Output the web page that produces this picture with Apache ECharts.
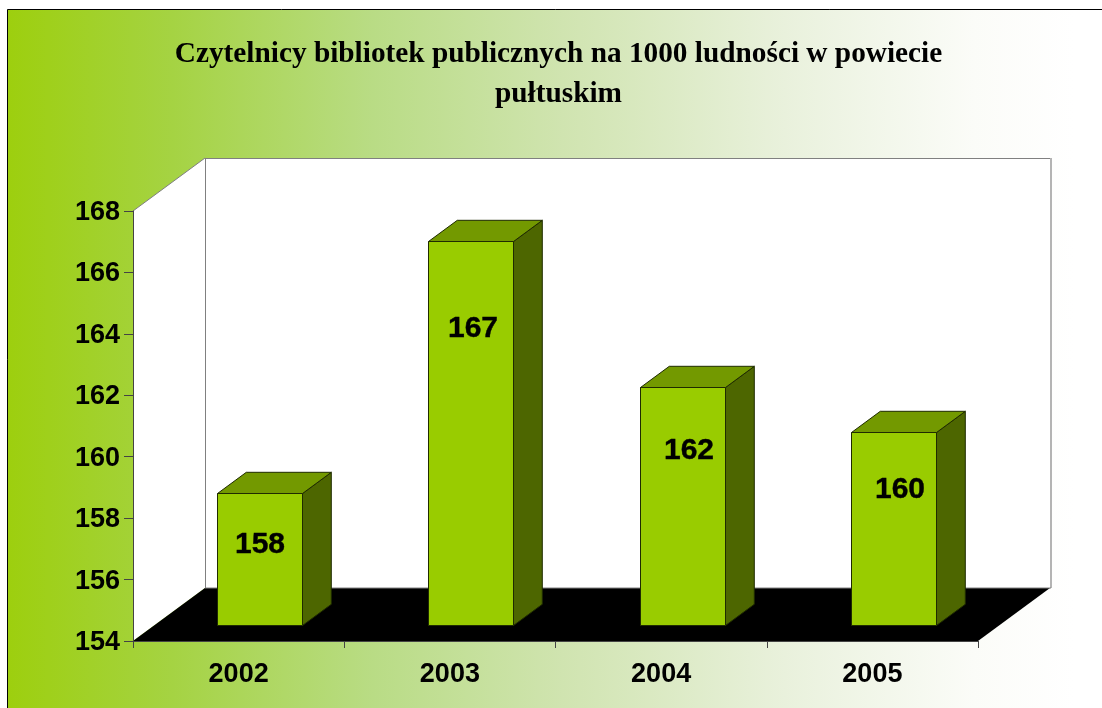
<!DOCTYPE html>
<html>
<head>
<meta charset="utf-8">
<style>html,body{margin:0;padding:0;background:#fff}#c{width:1102px;height:708px}</style>
<script src="https://cdn.jsdelivr.net/npm/echarts@6/dist/echarts.min.js"></script>
</head>
<body>
<div id="c"></div>
<script>
const titleLines = ['Czytelnicy bibliotek publicznych na 1000 ludności w powiecie', 'pułtuskim'];
const categories = ['2002', '2003', '2004', '2005'];
const barHeights = [158.3, 166.5, 161.75, 160.3];
const barLabels = ['158', '167', '162', '160'];
const axisMin = 154, axisMax = 168, axisStep = 2;

// Layout of the pseudo-3D box
const DEPTH = [72, -53];
const BAR_FRONT = 0.3, BAR_SIDE = 0.4;
const BAR_W = 85;
const LABEL_SHIFT = [[0, 50], [2, 86], [6, 62], [6, 56]];

const chart = echarts.init(document.getElementById('c'), null, {renderer: 'canvas'});
const poly = (points, fill, stroke, lw) => ({
  type: 'polygon', shape: {points},
  style: {fill, stroke: stroke || null, lineWidth: lw || 1}
});
const line = (a, b, stroke, lw) => ({
  type: 'line', shape: {x1: a[0], y1: a[1], x2: b[0], y2: b[1]},
  style: {stroke, lineWidth: lw || 1}
});

function renderBox(params) {
  const c = params.coordSys;
  const L = c.x, R = c.x + c.width, T = c.y, B = c.y + c.height;
  const [dx, dy] = DEPTH;
  return {type: 'group', children: [
    poly([[L, T], [L + dx, T + dy], [L + dx, B + dy], [L, B]], '#fff'),
    poly([[L + dx, T + dy], [R + dx, T + dy], [R + dx, B + dy], [L + dx, B + dy]], '#fff'),
    poly([[L, B], [R, B], [R + dx, B + dy], [L + dx, B + dy]], '#000'),
    line([L, T], [L + dx, T + dy], '#808080'),
    line([L + dx, T + dy + 0.5], [R + dx + 1, T + dy + 0.5], '#808080'),
    line([L + dx + 0.5, T + dy], [L + dx + 0.5, B + dy], '#808080'),
    line([R + dx + 1, T + dy], [R + dx + 1, B + dy], '#b4b4b4', 2),
    line([L + dx, B + dy], [R + dx + 1, B + dy], '#808080')
  ]};
}

function renderBar(params, api) {
  const i = params.dataIndex;
  const top = api.coord([i, api.value(1)]);
  const base = api.coord([i, axisMin]);
  const [dx, dy] = DEPTH;
  const cx = Math.round(top[0] + dx * BAR_FRONT);
  const x0 = cx - BAR_W / 2, x1 = cx + BAR_W / 2;
  const yT = Math.round(top[1] + dy * BAR_FRONT) + 0.5;
  const yB = Math.round(base[1] + dy * BAR_FRONT) + 0.5;
  const sx = dx * BAR_SIDE, sy = dy * BAR_SIDE;
  const edge = '#1f2b00';
  const shift = LABEL_SHIFT[i];
  return {type: 'group', children: [
    poly([[x1, yT], [x1 + sx, yT + sy], [x1 + sx, yB + sy], [x1, yB]], '#4d6600', edge),
    poly([[x0, yT], [x0 + sx, yT + sy], [x1 + sx, yT + sy], [x1, yT]], '#739900', edge),
    poly([[x0, yT], [x1, yT], [x1, yB], [x0, yB]], '#99cc00', edge),
    {type: 'text', style: {
      text: barLabels[i], x: cx + shift[0], y: yT + shift[1] + 1,
      align: 'center', verticalAlign: 'middle', fill: '#000',
      stroke: '#000', lineWidth: 0.4,
      font: 'bold 30px "Liberation Sans"'
    }}
  ]};
}

chart.setOption({
  animation: false,
  backgroundColor: '#fff',
  graphic: [{
    type: 'rect', z: -10, silent: true,
    shape: {x: 7.5, y: 9.5, width: 1110, height: 710},
    style: {
      fill: new echarts.graphic.LinearGradient(0, 0, 1, 0, [
        {offset: 0, color: '#9dcf0e'},
        {offset: 0.15, color: '#a5d343'},
        {offset: 0.33, color: '#b9dc85'},
        {offset: 0.5, color: '#d0e4b0'},
        {offset: 0.7, color: '#e9f1dc'},
        {offset: 0.87, color: '#fbfcf8'},
        {offset: 0.96, color: '#ffffff'}
      ]),
      stroke: '#000', lineWidth: 1
    }
  }],
  title: {
    text: titleLines.join('\n'),
    left: 553.5, top: 29, textAlign: 'center',
    textStyle: {fontFamily: '"Liberation Serif"', fontWeight: 'bold', fontSize: 29.3, lineHeight: 40, color: '#000'}
  },
  grid: {left: 133, top: 211, width: 845, height: 430, containLabel: false},
  xAxis: {
    type: 'category', data: categories, z: 10,
    axisTick: {show: true, alignWithLabel: false, length: 7, lineStyle: {color: '#444'}},
    axisLine: {show: true, lineStyle: {color: '#444', width: 1}},
    axisLabel: {color: '#000', fontFamily: '"Liberation Sans"', fontWeight: 'bold', fontSize: 27, margin: 20},
    splitLine: {show: false}
  },
  yAxis: {
    type: 'value', min: axisMin, max: axisMax, interval: axisStep, z: 10,
    axisTick: {show: true, length: 9, lineStyle: {color: '#444'}},
    axisLine: {show: true, lineStyle: {color: '#444', width: 1}},
    axisLabel: {color: '#000', fontFamily: '"Liberation Sans"', fontWeight: 'bold', fontSize: 27, margin: 13, verticalAlign: 'top', lineHeight: 3},
    splitLine: {show: false}
  },
  series: [
    {type: 'custom', z: 1, silent: true, clip: false, renderItem: renderBox, encode: {x: 0, y: 1}, data: [[0, axisMin]]},
    {type: 'custom', z: 2, silent: true, clip: false, renderItem: renderBar, encode: {x: 0, y: 1},
     data: barHeights.map((v, i) => [i, v])}
  ]
});
</script>
</body>
</html>
